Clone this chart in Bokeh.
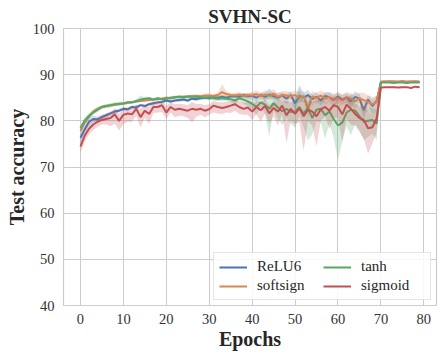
from bokeh.plotting import figure
from bokeh.models import Legend, LegendItem, Range1d, FixedTicker
from bokeh.embed import file_html
from bokeh.resources import INLINE

epochs = list(range(80))
x_ticks = [0, 10, 20, 30, 40, 50, 60, 70, 80]
y_ticks = [40, 50, 60, 70, 80, 90, 100]
series_names = ["ReLU6", "softsign", "tanh", "sigmoid"]

relu6 = [
    76.3, 78.2, 79.8, 80.4, 80.3, 80.8, 81.2, 81.6, 82.0, 82.2,
    82.6, 82.5, 83.0, 82.9, 83.4, 83.2, 83.6, 83.8, 84.0, 84.1,
    84.4, 84.2, 84.4, 84.5, 84.6, 84.4, 84.8, 84.7, 84.9, 85.0,
    84.9, 85.1, 85.0, 85.2, 85.0, 85.3, 85.4, 85.2, 85.6, 85.3,
    85.4, 85.0, 85.6, 85.2, 85.7, 85.3, 85.0, 85.5, 84.8, 85.6,
    83.8, 85.4, 85.0, 85.6, 84.7, 85.2, 84.4, 85.4, 85.1, 84.5,
    85.3, 84.6, 85.0, 84.2, 85.2, 84.8, 82.3, 84.6, 83.2, 84.3,
    88.4, 88.4, 88.5, 88.4, 88.4, 88.5, 88.4, 88.4, 88.5, 88.4]
relu6_dn = [
    1.0, 0.9, 0.8, 0.7, 0.6, 0.5, 0.5, 0.4, 0.5, 0.4,
    0.4, 0.4, 0.3, 0.4, 0.3, 0.4, 0.3, 0.4, 0.3, 0.4,
    0.3, 0.4, 0.3, 0.4, 0.3, 0.4, 0.3, 0.4, 0.4, 0.3,
    0.4, 0.4, 0.5, 0.4, 0.5, 0.4, 0.5, 0.6, 0.5, 0.6,
    0.7, 0.8, 0.6, 0.9, 0.7, 0.8, 1.0, 0.7, 1.2, 0.8,
    1.5, 0.9, 1.1, 0.8, 1.3, 0.9, 1.2, 0.8, 1.0, 1.4,
    0.9, 1.2, 1.0, 1.5, 0.9, 1.1, 2.0, 1.2, 1.8, 1.3,
    0.1, 0.1, 0.1, 0.1, 0.1, 0.1, 0.1, 0.1, 0.1, 0.1]
relu6_up = [
    1.0, 0.9, 0.8, 0.7, 0.6, 0.5, 0.5, 0.4, 0.5, 0.4,
    0.4, 0.4, 0.3, 0.4, 0.3, 0.4, 0.3, 0.4, 0.3, 0.4,
    0.3, 0.4, 0.3, 0.4, 0.3, 0.4, 0.3, 0.4, 0.4, 0.3,
    0.4, 0.4, 0.5, 0.4, 0.5, 0.4, 0.5, 0.6, 0.5, 0.6,
    0.7, 0.8, 0.6, 0.9, 1.3, 0.8, 1.0, 0.7, 1.0, 0.8,
    1.2, 2.3, 1.1, 1.0, 1.0, 0.9, 1.0, 0.8, 1.0, 1.1,
    0.9, 1.0, 1.0, 1.2, 1.2, 1.0, 1.6, 1.0, 1.5, 1.1,
    0.1, 0.1, 0.1, 0.1, 0.1, 0.1, 0.1, 0.1, 0.1, 0.1]

softsign = [
    77.8, 79.6, 80.9, 82.0, 82.6, 83.0, 83.2, 83.3, 83.5, 83.6,
    83.7, 83.9, 84.0, 84.2, 84.3, 84.4, 84.5, 84.6, 84.7, 84.8,
    85.0, 84.9, 85.1, 85.2, 85.2, 85.3, 85.2, 85.4, 85.3, 85.5,
    85.5, 85.4, 85.6, 86.2, 85.8, 85.6, 85.5, 85.7, 85.4, 85.6,
    85.5, 85.8, 85.3, 85.7, 85.4, 85.9, 85.2, 85.6, 85.5, 85.3,
    85.6, 85.0, 85.4, 82.6, 85.3, 84.9, 85.5, 84.8, 85.2, 84.6,
    85.0, 84.4, 85.1, 84.7, 84.2, 84.9, 84.5, 84.1, 83.6, 84.0,
    88.5, 88.6, 88.5, 88.6, 88.5, 88.6, 88.5, 88.6, 88.5, 88.5]
softsign_dn = [
    0.7, 0.6, 0.6, 0.5, 0.5, 0.4, 0.4, 0.4, 0.3, 0.3,
    0.3, 0.3, 0.3, 0.3, 0.3, 0.3, 0.3, 0.3, 0.3, 0.3,
    0.4, 0.3, 0.4, 0.3, 0.4, 0.3, 0.4, 0.4, 0.4, 0.4,
    0.5, 0.4, 0.5, 0.8, 0.5, 0.5, 0.6, 0.5, 0.6, 0.5,
    0.7, 0.8, 0.7, 0.9, 0.8, 1.0, 0.9, 0.8, 1.0, 0.9,
    1.0, 1.2, 1.0, 2.0, 1.1, 1.2, 1.0, 1.3, 1.1, 1.4,
    1.2, 1.5, 1.2, 1.3, 1.6, 1.2, 2.5, 2.2, 2.6, 1.8,
    0.1, 0.1, 0.1, 0.1, 0.1, 0.1, 0.1, 0.1, 0.1, 0.1]
softsign_up = [
    0.7, 0.6, 0.6, 0.5, 0.5, 0.4, 0.4, 0.4, 0.3, 0.3,
    0.3, 0.3, 0.3, 0.3, 0.3, 0.3, 0.3, 0.3, 0.3, 0.3,
    0.4, 0.3, 0.4, 0.3, 0.4, 0.3, 0.4, 0.4, 0.4, 0.4,
    0.5, 0.4, 0.5, 1.8, 0.6, 0.5, 0.6, 0.5, 0.6, 0.5,
    0.7, 0.8, 0.7, 0.9, 0.8, 1.0, 0.9, 0.8, 1.0, 0.9,
    1.0, 1.2, 1.0, 1.5, 1.1, 1.2, 1.0, 1.3, 1.1, 1.2,
    1.2, 1.3, 1.2, 1.3, 1.4, 1.2, 1.6, 1.4, 1.6, 1.4,
    0.1, 0.1, 0.1, 0.1, 0.1, 0.1, 0.1, 0.1, 0.1, 0.1]

tanh = [
    78.4, 80.1, 81.1, 81.8, 82.4, 83.0, 83.2, 83.4, 83.6, 83.7,
    83.8, 84.0, 84.0, 84.3, 84.6, 84.8, 84.9, 84.6, 84.9, 84.7,
    84.8, 85.0, 85.1, 85.2, 85.1, 85.2, 85.3, 85.2, 85.1, 85.0,
    85.1, 84.9, 84.8, 84.9, 84.8, 84.7, 84.4, 84.9, 84.6, 84.2,
    83.7, 83.0, 84.0, 83.5, 82.6, 83.8, 82.9, 82.1, 82.6, 81.9,
    82.0, 83.0, 81.6, 82.8, 80.6, 82.4, 82.6, 81.2, 82.0, 80.4,
    79.0, 79.6, 81.8, 82.4, 82.2, 81.0, 79.8, 80.0, 80.2, 79.4,
    88.3, 88.3, 88.3, 88.2, 88.3, 88.3, 88.2, 88.3, 88.3, 88.3]
tanh_dn = [
    0.7, 0.6, 0.6, 0.5, 0.5, 0.4, 0.4, 0.4, 0.4, 0.3,
    0.3, 0.3, 0.3, 0.3, 0.4, 0.3, 0.3, 0.4, 0.3, 0.3,
    0.3, 0.3, 0.3, 0.3, 0.3, 0.3, 0.4, 0.3, 0.4, 0.4,
    0.4, 0.5, 0.5, 0.6, 0.5, 0.7, 0.8, 0.6, 0.9, 1.0,
    1.2, 1.8, 1.0, 2.0, 6.0, 1.5, 2.5, 3.0, 2.0, 2.5,
    3.5, 2.0, 3.0, 7.0, 3.5, 2.5, 3.0, 5.0, 2.5, 4.0,
    7.5, 4.0, 3.0, 5.5, 3.0, 3.0, 4.0, 3.5, 3.0, 3.5,
    0.1, 0.1, 0.1, 0.1, 0.1, 0.1, 0.1, 0.1, 0.1, 0.1]
tanh_up = [
    0.7, 0.6, 0.6, 0.5, 0.5, 0.4, 0.4, 0.4, 0.4, 0.3,
    0.3, 0.3, 0.3, 0.3, 0.9, 0.3, 0.3, 0.4, 0.3, 0.3,
    0.3, 0.3, 0.3, 0.3, 0.3, 0.3, 0.4, 0.3, 0.4, 0.4,
    0.4, 0.5, 0.5, 0.6, 0.5, 0.7, 0.8, 0.6, 0.8, 0.9,
    1.0, 1.5, 1.0, 1.5, 3.5, 1.2, 2.0, 2.2, 1.8, 2.0,
    2.5, 4.0, 2.5, 3.0, 3.0, 2.0, 2.5, 3.0, 2.0, 3.0,
    6.0, 3.0, 2.5, 3.5, 2.5, 2.5, 3.0, 3.0, 2.5, 3.0,
    0.1, 0.1, 0.1, 0.1, 0.1, 0.1, 0.1, 0.1, 0.1, 0.1]

sigmoid = [
    74.4, 76.8, 78.3, 79.2, 79.8, 80.2, 80.4, 80.6, 81.4, 80.0,
    81.3, 81.6, 81.4, 82.6, 80.8, 82.2, 81.5, 83.0, 83.0, 83.4,
    81.8, 83.0, 82.4, 82.6, 82.4, 82.2, 82.6, 82.4, 82.6, 82.2,
    82.5, 83.3, 83.0, 82.8, 83.0, 83.3, 83.6, 83.0, 82.6, 82.9,
    82.0, 83.0, 82.3, 83.2, 81.6, 82.8, 82.0, 83.3, 81.2, 82.6,
    81.5, 82.7, 81.0, 82.4, 82.0, 81.0, 82.5, 83.0, 82.2, 83.4,
    83.0, 81.4, 83.5, 82.6, 81.5, 80.6, 80.2, 78.4, 78.6, 80.5,
    87.2, 87.3, 87.3, 87.3, 87.2, 87.3, 87.3, 87.1, 87.4, 87.3]
sigmoid_dn = [
    1.4, 1.3, 1.2, 1.2, 1.1, 1.0, 1.2, 1.8, 2.0, 2.1,
    2.0, 1.8, 1.6, 1.5, 2.2, 1.5, 2.2, 1.3, 1.2, 1.5,
    1.4, 1.2, 1.6, 1.5, 1.4, 1.6, 2.9, 1.5, 1.3, 1.4,
    1.2, 1.5, 1.4, 1.3, 1.2, 1.6, 1.4, 1.5, 1.3, 1.6,
    1.8, 1.5, 2.5, 1.6, 2.2, 1.8, 3.0, 1.7, 6.0, 2.5,
    2.2, 3.0, 7.5, 2.5, 3.0, 6.5, 2.5, 2.0, 4.0, 2.8,
    2.2, 6.0, 3.0, 3.5, 2.5, 3.0, 4.0, 5.5, 3.5, 3.0,
    0.1, 0.1, 0.1, 0.1, 0.1, 0.1, 0.1, 0.1, 0.1, 0.1]
sigmoid_up = [
    1.2, 1.1, 1.0, 1.0, 1.0, 1.0, 1.0, 1.2, 1.2, 1.5,
    1.2, 1.2, 1.3, 1.0, 1.8, 1.2, 1.5, 1.0, 1.0, 1.0,
    1.5, 1.0, 1.2, 1.1, 1.2, 1.2, 1.5, 1.2, 1.1, 1.2,
    1.1, 1.0, 1.1, 1.2, 1.1, 1.0, 1.0, 1.2, 1.3, 1.2,
    1.5, 1.3, 1.8, 1.4, 1.8, 1.5, 2.0, 1.5, 3.0, 1.8,
    2.0, 2.2, 3.5, 2.0, 2.2, 3.5, 2.0, 1.8, 2.5, 2.0,
    2.0, 3.5, 2.0, 2.5, 2.2, 2.5, 3.0, 3.5, 2.5, 2.5,
    0.1, 0.1, 0.1, 0.1, 0.1, 0.1, 0.1, 0.1, 0.1, 0.1]

colors = ["#4C72B0", "#DD8452", "#55A868", "#C44E52"]
SERIF = "Liberation Serif"

p = figure(width=443, height=359, output_backend="svg", toolbar_location=None,
           x_range=Range1d(-3.95, 82.95), y_range=Range1d(40, 100),
           min_border_left=63, min_border_right=7, min_border_top=28,
           min_border_bottom=54)

p.title.text = "SVHN-SC"
p.title.align = "center"
p.title.text_font = SERIF
p.title.text_font_style = "bold"
p.title.text_font_size = "19px"
p.title.text_color = "#262626"
p.title.offset = 0
p.title.standoff = 4

p.background_fill_color = "white"
p.border_fill_color = "white"
p.outline_line_color = "#cccccc"
p.outline_line_width = 1.2

for ax in (p.xaxis, p.yaxis):
    ax.axis_line_color = None
    ax.major_tick_line_color = None
    ax.minor_tick_line_color = None
    ax.major_tick_out = 0
    ax.major_tick_in = 0
    ax.major_label_text_font = SERIF
    ax.major_label_text_font_size = "14.5px"
    ax.major_label_text_color = "#333333"
    ax.axis_label_text_font = SERIF
    ax.axis_label_text_font_style = "bold"
    ax.axis_label_text_font_size = "20px"
    ax.axis_label_text_color = "#262626"

p.xaxis.major_label_standoff = 8
p.yaxis.major_label_standoff = 9
p.xaxis.ticker = FixedTicker(ticks=x_ticks)
p.yaxis.ticker = FixedTicker(ticks=y_ticks)
p.xaxis.axis_label = "Epochs"
p.yaxis.axis_label = "Test accuracy"
p.xaxis.axis_label_standoff = 1
p.yaxis.axis_label_standoff = 2

p.xgrid.grid_line_color = "#cccccc"
p.ygrid.grid_line_color = "#cccccc"
p.xgrid.ticker = FixedTicker(ticks=x_ticks)
p.ygrid.ticker = FixedTicker(ticks=y_ticks)

data = [(relu6, relu6_dn, relu6_up), (softsign, softsign_dn, softsign_up),
        (tanh, tanh_dn, tanh_up), (sigmoid, sigmoid_dn, sigmoid_up)]

renderers = []
for (m, dn, up), c in zip(data, colors):
    lo = [a - b for a, b in zip(m, dn)]
    hi = [a + b for a, b in zip(m, up)]
    p.varea(x=epochs, y1=lo, y2=hi, fill_color=c, fill_alpha=0.25)
    r = p.line(x=epochs, y=m, line_color=c, line_width=2)
    renderers.append(r)

items = [LegendItem(label=n, renderers=[r]) for n, r in zip(series_names, renderers)]
legend = Legend(items=items, location="bottom_right", ncols=2,
                label_text_font=SERIF, label_text_font_size="15px",
                label_text_color="#262626", label_width=64,
                glyph_width=28, glyph_height=16, label_standoff=10,
                spacing=2, padding=5, margin=5,
                border_line_color="#cccccc", background_fill_alpha=0.85)
p.add_layout(legend, "center")

open("out.html", "w").write(file_html(p, INLINE))
